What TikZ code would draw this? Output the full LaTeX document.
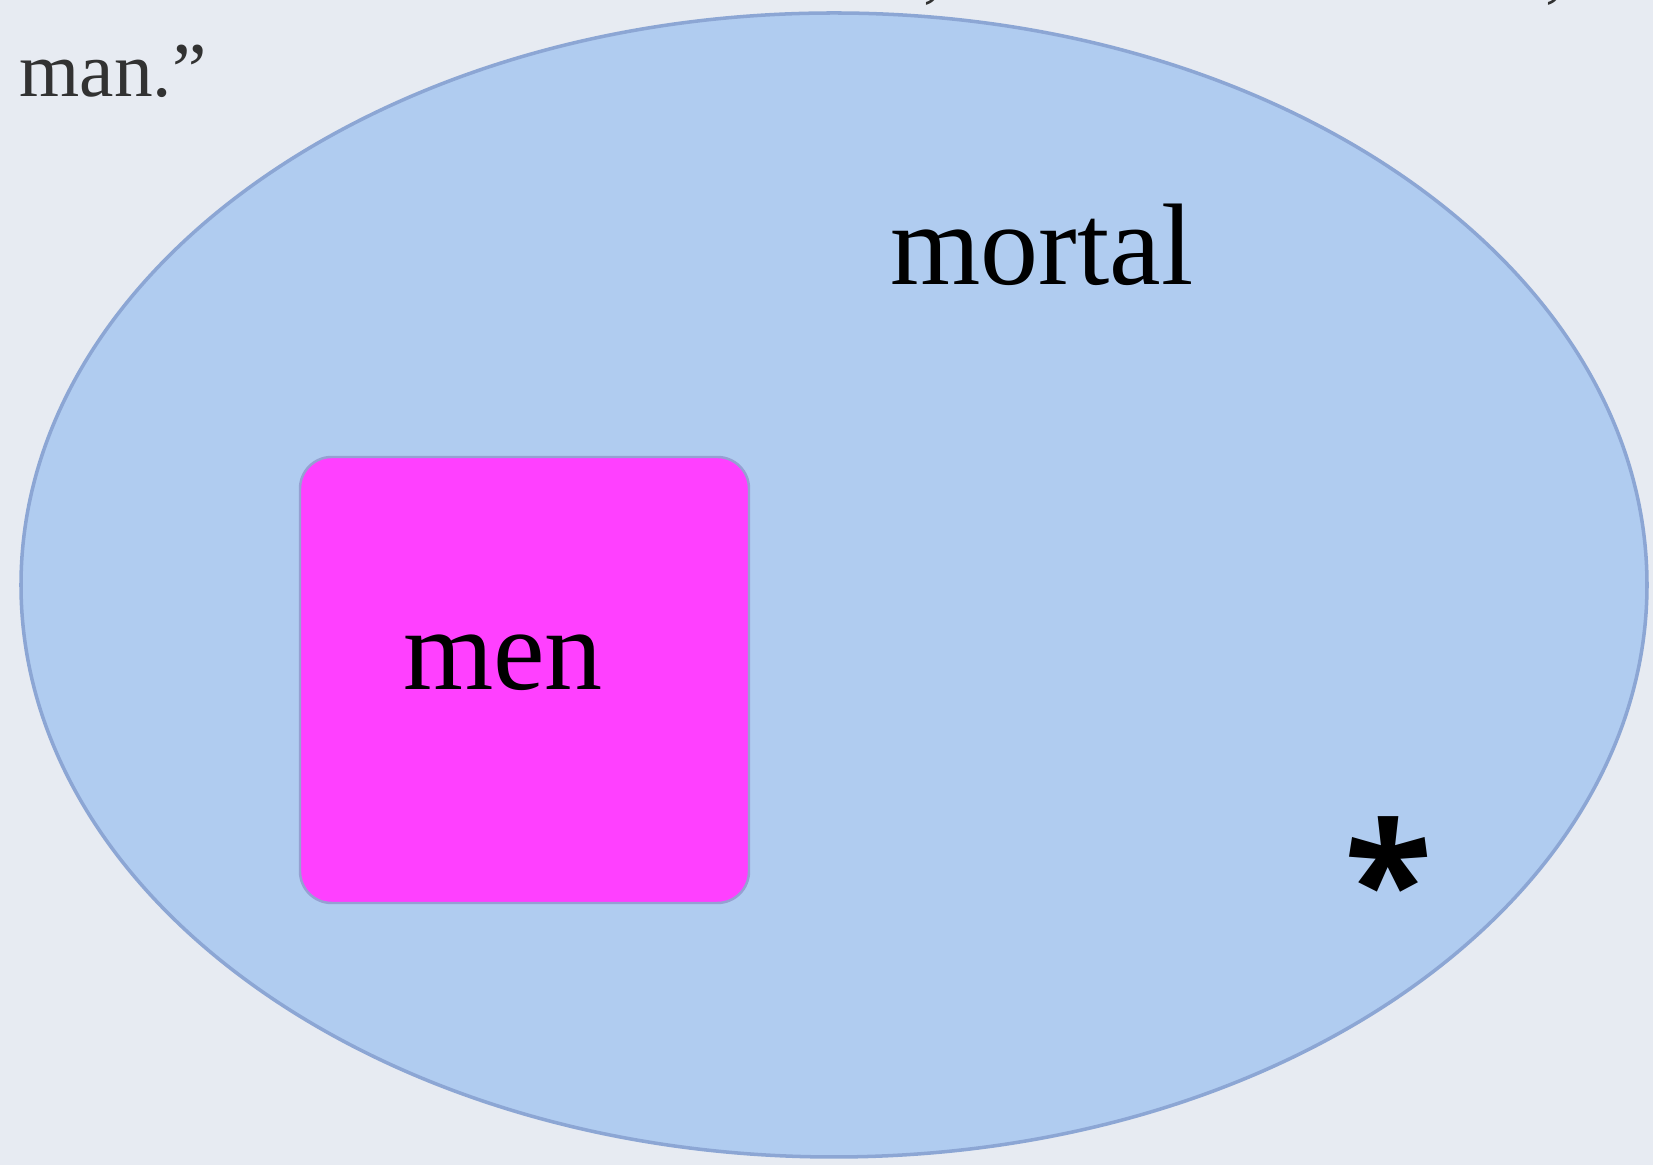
\documentclass[tikz,border=0pt]{standalone}
\usepackage{fontspec}
\setmainfont{Liberation Serif}
\newfontfamily\starfont{Open Sans}
\definecolor{paper}{RGB}{231,235,242}
\definecolor{setblue}{RGB}{176,204,240}
\definecolor{setedge}{RGB}{140,166,212}
\definecolor{menpink}{RGB}{255,64,255}
\definecolor{menedge}{RGB}{150,160,210}
\definecolor{inkgray}{RGB}{50,50,50}
\begin{document}
\begin{tikzpicture}[x=0.01cm, y=-0.01cm, line join=round, line cap=round,
  word/.style={font=\fontsize{33}{40}\selectfont, inner sep=0pt, anchor=base}]
	\useasboundingbox[fill=paper] (0,0) rectangle (1653,1165);
	\path (834,585) coordinate (O)
	(300,457) coordinate (A)
	(749,903) coordinate (B);
	
	% cut-off line above the picture
	\foreach \x/\n in {933/c1, 1555/c2}
		\node[font=\fontsize{22}{26}\selectfont, text=inkgray, inner sep=0pt, anchor=base] (\n) at (\x,-6) {,};
	\node[font=\fontsize{22}{26}\selectfont, text=inkgray, inner sep=0pt, anchor=base west] (man) at (19,97) {man.”};
	
	\filldraw[fill=setblue, draw=setedge, line width=1pt] (O) ellipse [x radius=813, y radius=572];
	\filldraw[fill=menpink, draw=menedge, line width=0.7pt, rounded corners=9pt] (A) rectangle (B);
	
	\node[word] (men) at (503,690) {men};
	\node[word] (mortal) at (1042,285) {mortal};
	\node[font=\starfont\fontsize{46}{46}\selectfont\bfseries, inner sep=0pt] (star) at (1389,878) {*};
\end{tikzpicture}
\end{document}
